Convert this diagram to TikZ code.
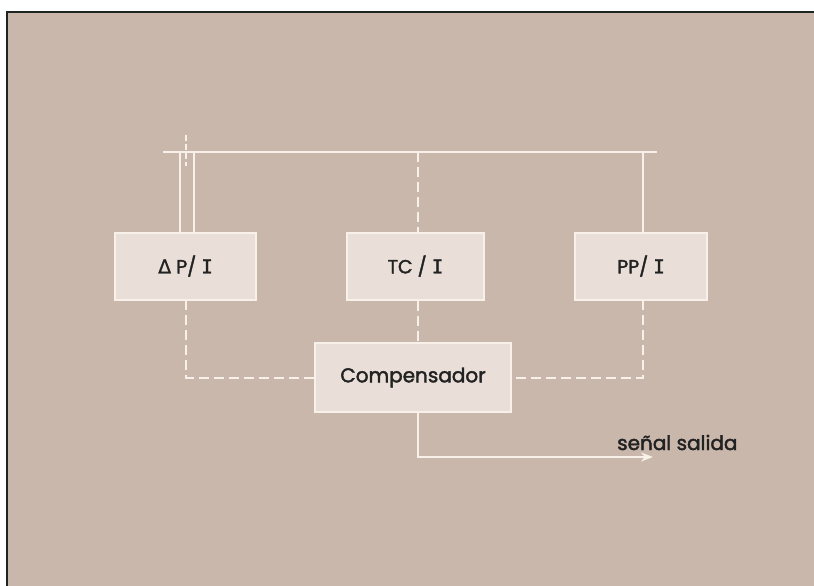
\documentclass[tikz,border=0pt]{standalone}
\usepackage{fontspec}
\setmainfont{Poppins}[UprightFeatures={FakeBold=2}]
\newfontfamily\greekfont{DejaVu Sans}[FakeBold=1]
\newfontfamily\serifI{DejaVu Sans Mono}[FakeBold=1.5]
\usetikzlibrary{arrows.meta}
\definecolor{panel}{HTML}{C9B7AC}
\definecolor{boxfill}{HTML}{E9DFD8}
\definecolor{wire}{HTML}{F8F1EA}
\definecolor{ink}{HTML}{222222}
\definecolor{frameline}{HTML}{1E2420}
\newcommand{\Ibar}{{\serifI I}}
\begin{document}
\begin{tikzpicture}[x=1pt,y=-1pt,
  blockbox/.style={draw=wire,line width=2pt,fill=boxfill,text=ink,
    minimum height=67pt,inner sep=0pt,font=\fontsize{19}{22}\selectfont},
  wireline/.style={draw=wire,line width=2pt},
  dashline/.style={draw=wire,line width=2pt,dash pattern=on 10pt off 5pt},
  label/.style={text=ink,font=\fontsize{20}{24}\selectfont,inner sep=0pt}]
  % sheet, panel and its dark edges
  \useasboundingbox (0,0) rectangle (814,586);
  \fill[white] (0,0) rectangle (814,586);
  \fill[panel] (7,12) rectangle (814,586);
  \draw[frameline,line width=2pt] (7,586) -- (7,12) -- (814,12);

  % converter blocks
  \node[blockbox,minimum width=141pt] (dp) at (185.5,266) {{\greekfont Δ} P/ \Ibar};
  \node[blockbox,minimum width=137pt] (tc) at (415.5,266) {TC / \Ibar};
  \node[blockbox,minimum width=132pt] (pp) at (641,266) {PP/ \Ibar};
  \node[blockbox,minimum width=196pt,minimum height=69pt,
        font=\fontsize{20}{24}\selectfont] (comp) at (413,377.5) {Compensador};

  % process bus
  \coordinate (busL) at (163,152);
  \coordinate (busR) at (657,152);
  \draw[wireline] (busL) -- (busR);

  % impulse pipes to the differential-pressure block
  \coordinate (pipeA) at (180,152);
  \coordinate (pipeB) at (194,152);
  \coordinate (tapTop) at (186,135);
  \coordinate (tapBot) at (186,166);
  \draw[wireline] (pipeA) -- (pipeA |- dp.north);
  \draw[wireline] (pipeB) -- (pipeB |- dp.north);
  \draw[draw=wire,line width=1.5pt,dash pattern=on 6pt off 3pt] (tapTop) -- (tapBot);

  % temperature and pressure taps
  \coordinate (tcTap) at (418,152);
  \coordinate (ppTap) at (643,152);
  \draw[dashline] (tcTap) -- (tcTap |- tc.north);
  \draw[wireline] (ppTap) -- (ppTap |- pp.north);

  % signals into the compensator
  \coordinate (dpOut) at (186,300);
  \coordinate (ppOut) at (643,300);
  \draw[dashline] (dpOut) |- (comp.west);
  \draw[dashline] (ppOut) |- (comp.east);
  \draw[dashline] (tc.south -| tcTap) -- (comp.north -| tcTap);

  % output signal
  \coordinate (outEnd) at (653,457);
  \draw[wireline,-{Stealth[length=12pt,width=9pt]}] (comp.south -| tcTap) |- (outEnd);
  \node[label,anchor=base west] (out) at (617,450) {señal salida};
\end{tikzpicture}
\end{document}
